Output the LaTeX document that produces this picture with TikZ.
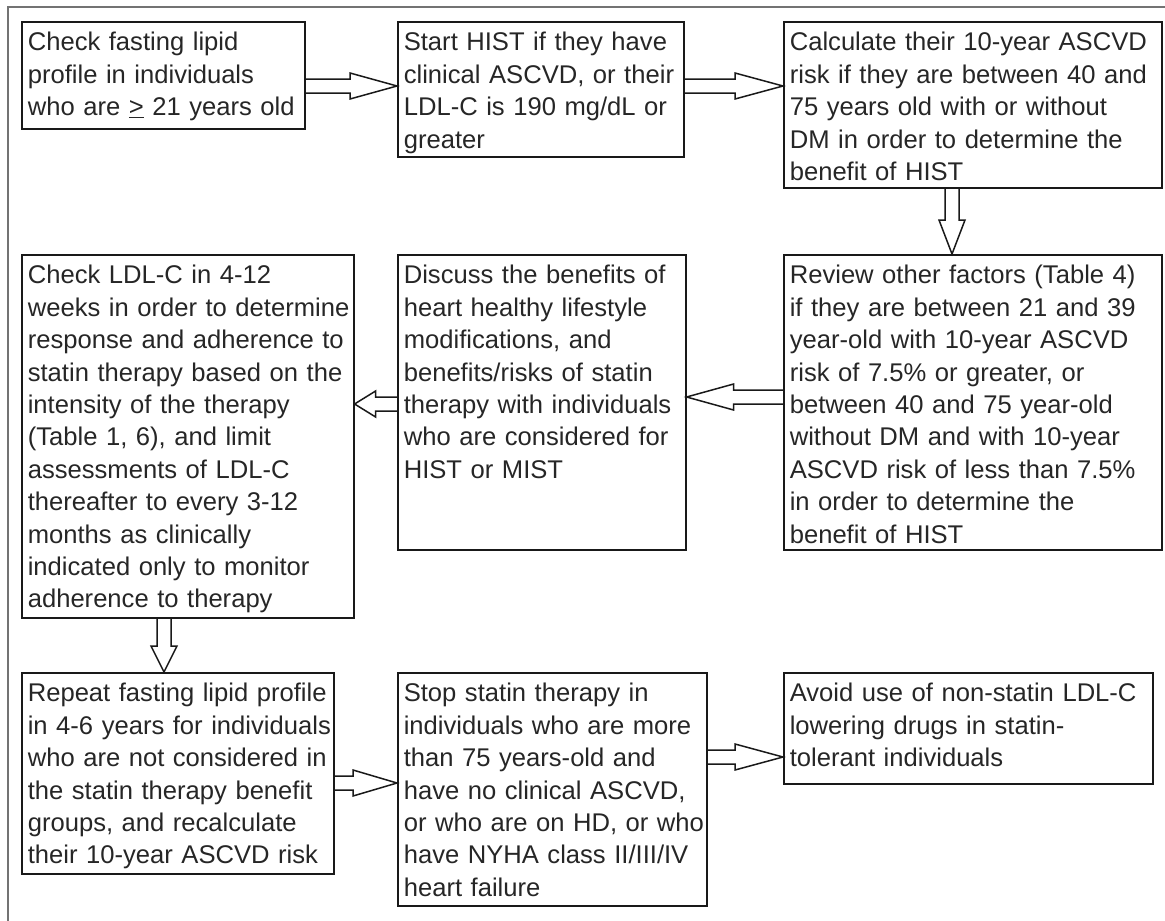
\documentclass[tikz,border=0pt]{standalone}
\usepackage{fontspec}
\setmainfont{Liberation Sans}
\usetikzlibrary{calc}
\newcommand{\steplines}{\rightskip=0pt plus 1fil minus 40pt \linepenalty=2000 \hyphenpenalty=10000 \exhyphenpenalty=10000 \parindent=0pt}

\begin{document}
\begin{tikzpicture}[x=1pt,y=-1pt]
\tikzstyle{stepbox}=[draw=black!90, line width=1.6pt, anchor=north west, inner xsep=6pt, inner ysep=0pt, execute at begin node=\steplines, text height=29pt, text=black!85, font=\fontsize{25.6pt}{32.4pt}\selectfont]
\tikzset{headlen/.store in=\headlen, headlen=47pt}
\tikzstyle{hollow}=[draw=black!90, line width=1.5pt, to path={
    ($(\tikztotarget)!\headlen!(\tikztostart)$) coordinate (hb)
    ($(\tikztostart)!7pt!90:(\tikztotarget)$) -- ($(hb)!7pt!90:(\tikztotarget)$)
    -- ($(hb)!13pt!90:(\tikztotarget)$) -- (\tikztotarget)
    -- ($(hb)!13pt!-90:(\tikztotarget)$) -- ($(hb)!7pt!-90:(\tikztotarget)$)
    -- ($(\tikztostart)!7pt!-90:(\tikztotarget)$)}]
    \useasboundingbox (0,0) rectangle (1165,921);
    \draw[black!55, line width=1.5pt] (8,921) -- (8,7) -- (1165,7);
    % first row
    \node[stepbox, text width=271pt, text depth=78pt] (b1) at (21,21) {Check fasting lipid\\ profile in individuals\\ who are \underline{>} 21 years old};
    \node[stepbox, text width=274pt, text depth=106pt] (b2) at (397,21) {Start HIST if they have\\ clinical ASCVD, or their\\ LDL-C is 190 mg/dL or\\ greater};
    \node[stepbox, text width=366pt, text depth=137pt] (b3) at (783,21) {Calculate their 10-year ASCVD\\ risk if they are between 40 and\\ 75 years old with or without\\ DM in order to determine the\\ benefit of HIST};
    % second row
    \node[stepbox, text width=366pt, text depth=266pt] (b4) at (783,254) {Review other factors (Table 4)\\ if they are between 21 and 39\\ year-old with 10-year ASCVD\\ risk of 7.5\% or greater, or\\ between 40 and 75 year-old\\ without DM and with 10-year\\ ASCVD risk of less than 7.5\%\\ in order to determine the\\ benefit of HIST};
    \node[stepbox, text width=276pt, text depth=266pt] (b5) at (397,254) {Discuss the benefits of\\ heart healthy lifestyle\\ modifications, and\\ benefits/risks of statin\\ therapy with individuals\\ who are considered for\\ HIST or MIST};
    \node[stepbox, text width=320pt, text depth=334pt] (b6) at (21,254) {Check LDL-C in 4-12\\ weeks in order to determine\\ response and adherence to\\ statin therapy based on the\\ intensity of the therapy\\ (Table 1, 6), and limit\\ assessments of LDL-C\\ thereafter to every 3-12\\ months as clinically\\ indicated only to monitor\\ adherence to therapy};
    % third row
    \node[stepbox, text width=300pt, text depth=172pt] (b7) at (21,672) {Repeat fasting lipid profile\\ in 4-6 years for individuals\\ who are not considered in\\ the statin therapy benefit\\ groups, and recalculate\\ their 10-year ASCVD risk};
    \node[stepbox, text width=297pt, text depth=204pt] (b8) at (397,672) {Stop statin therapy in\\ individuals who are more\\ than 75 years-old and\\ have no clinical ASCVD,\\ or who are on HD, or who\\ have NYHA class II/III/IV\\ heart failure};
    \node[stepbox, text width=357pt, text depth=82pt] (b9) at (783,672) {Avoid use of non-statin LDL-C\\ lowering drugs in statin-\\ tolerant individuals};
    % arrows
    \draw[hollow] (b1.east |- 0,86) to (b2.west |- 0,86);
    \draw[hollow, headlen=48pt] (b2.east |- 0,86) to (b3.west |- 0,86);
    \draw[hollow, headlen=34pt] (b3.south -| 952,0) to (b4.north -| 952,0);
    \draw[hollow] (b4.west |- 0,397) to (b5.east |- 0,397);
    \draw[hollow, headlen=21pt] (b5.west |- 0,404) to (b6.east |- 0,404);
    \draw[hollow, headlen=26pt] (b6.south -| 164,0) to (b7.north -| 164,0);
    \draw[hollow, headlen=44pt] (b7.east |- 0,783) to (b8.west |- 0,783);
    \draw[hollow, headlen=48pt] (b8.east |- 0,757) to (b9.west |- 0,757);
\end{tikzpicture}
\end{document}
